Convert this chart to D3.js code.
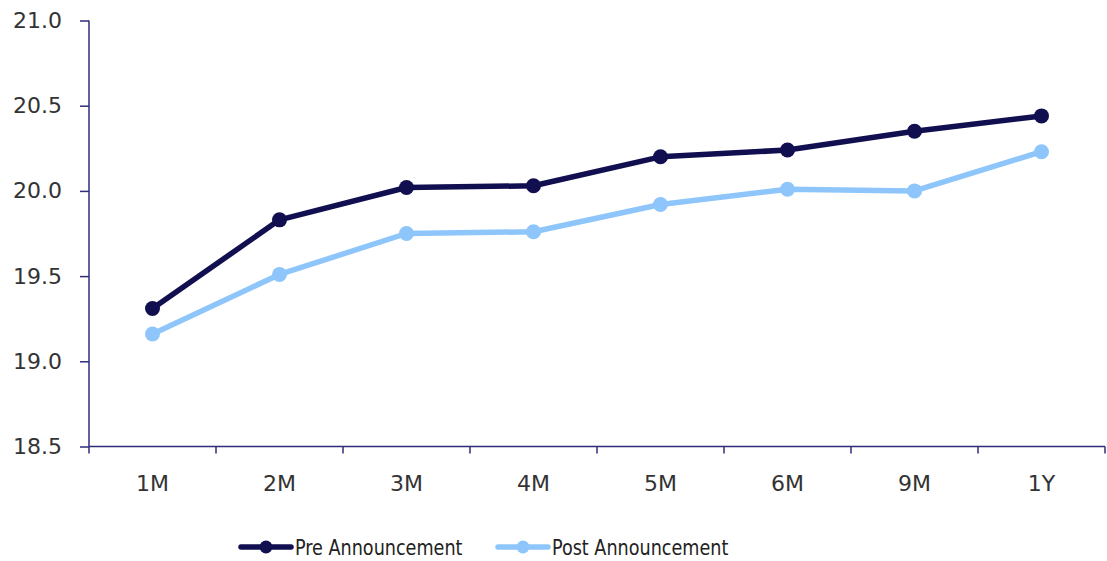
<!DOCTYPE html>
<html><head><meta charset="utf-8">
<script src="https://cdn.jsdelivr.net/npm/d3@7"></script>
<style>body{margin:0;background:#fff;}</style>
</head><body>
<svg id="c" width="1107" height="561"></svg>
<script>
const categories = ["1M","2M","3M","4M","5M","6M","9M","1Y"];
const preValues = [19.31, 19.83, 20.02, 20.03, 20.20, 20.24, 20.35, 20.44];
const postValues = [19.16, 19.51, 19.75, 19.76, 19.92, 20.01, 20.00, 20.23];
const yTicks = [18.5, 19.0, 19.5, 20.0, 20.5, 21.0];
const seriesNames = ["Pre Announcement","Post Announcement"];
const colors = ["#110f50","#8ec6fb"];
const axisColor = "#2e2d7a";
const tickFont = "'DejaVu Sans', sans-serif";
const legendFont = "'DejaVu Sans Condensed', 'DejaVu Sans', sans-serif";

const svg = d3.select("#c");
const x = d3.scaleBand().domain(categories).range([89, 1105]);
const y = d3.scaleLinear().domain([18.5, 21.0]).range([446.5, 20.5]);

// y axis
const ya = svg.append("g").attr("transform","translate(89,0)")
  .call(d3.axisLeft(y).tickValues(yTicks).tickFormat(d3.format(".1f")).tickSize(9).tickPadding(18));
ya.select(".domain").attr("stroke",axisColor).attr("stroke-width",1.5).attr("d","M0,20.5V446.5");
ya.selectAll(".tick line").attr("stroke",axisColor).attr("stroke-width",1.5);
ya.selectAll(".tick text").attr("fill","#333").style("font-family",tickFont).style("font-size","22px");

// x axis
const xa = svg.append("g").attr("transform","translate(0,446.5)")
  .call(d3.axisBottom(x).tickSize(0).tickPadding(29));
xa.select(".domain").attr("stroke",axisColor).attr("stroke-width",1.5).attr("d","M89,0H1105");
xa.selectAll(".tick text").attr("fill","#333").style("font-family",tickFont).style("font-size","22px");
const bounds = categories.map(c => x(c)).concat([x.range()[1]]);
xa.selectAll(".bnd").data(bounds).enter().append("line")
  .attr("x1",d=>d).attr("x2",d=>d).attr("y1",0).attr("y2",7)
  .attr("stroke",axisColor).attr("stroke-width",1.5);

const line = d3.line().x((d,i)=>x(categories[i])+x.bandwidth()/2).y(d=>y(d));
[preValues, postValues].forEach((vals, si) => {
  svg.append("path").attr("d", line(vals)).attr("fill","none")
    .attr("stroke", colors[si]).attr("stroke-width",5.5).attr("stroke-linejoin","round");
  svg.selectAll(".m"+si).data(vals).enter().append("circle")
    .attr("cx",(d,i)=>x(categories[i])+x.bandwidth()/2).attr("cy",d=>y(d)).attr("r",7.5)
    .attr("fill",colors[si]);
});

// legend
const legend = [{x:241, tx:295},{x:498, tx:552}];
legend.forEach((l, i) => {
  const g = svg.append("g");
  g.append("line").attr("x1",l.x).attr("x2",l.x+50).attr("y1",547).attr("y2",547)
    .attr("stroke",colors[i]).attr("stroke-width",5.5).attr("stroke-linecap","round");
  g.append("circle").attr("cx",l.x+25).attr("cy",547).attr("r",6.5).attr("fill",colors[i]);
  g.append("text").attr("transform",`translate(${l.tx},555) scale(0.89,1)`).attr("fill","#222")
    .style("font-family",legendFont).style("font-size","22px").text(seriesNames[i]);
});
</script>
</body></html>
